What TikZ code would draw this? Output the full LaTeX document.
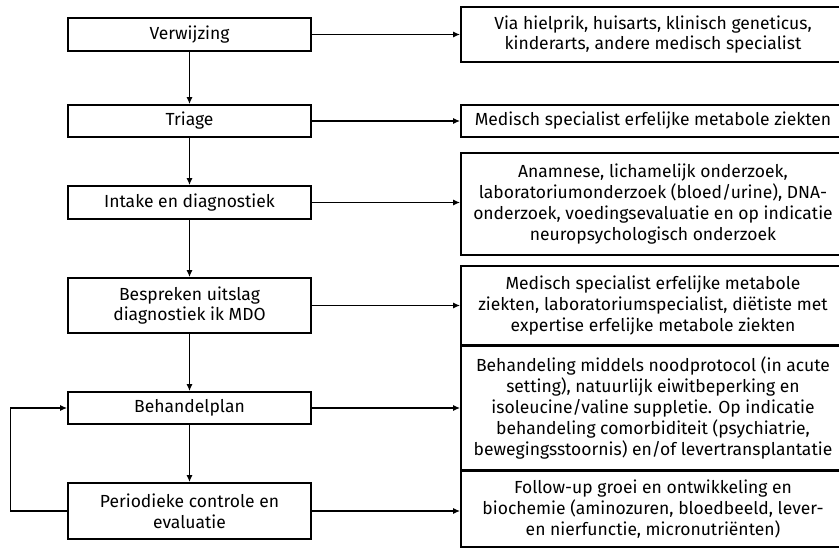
\documentclass[tikz,border=0pt]{standalone}
\usepackage{fontspec}
\setmainfont{Fira Sans}
\usetikzlibrary{arrows.meta}
\begin{document}
\begin{tikzpicture}[x=1pt,y=-1pt,
  every node/.style={font=\fontsize{17.5}{20.8}\selectfont},
  lbox/.style={draw,line width=1.7pt,minimum width=243pt,align=center,inner sep=0pt},
  rbox/.style={draw,line width=1.7pt,minimum width=384pt,align=center,inner sep=0pt},
  conn/.style={line width=1.6pt,-{Latex[length=7pt,width=6pt]}}]
\useasboundingbox (0,0) rectangle (839,549);
\clip (0,0) rectangle (839,549);
% left column
\node[lbox,minimum height=33pt] (v) at (189.5,34.5) {Verwijzing};
\node[lbox,minimum height=32pt] (t) at (189.5,121) {Triage};
\node[lbox,minimum height=33pt] (i) at (189.5,202.5) {Intake en diagnostiek};
\node[lbox,minimum height=55pt] (b) at (189.5,305.5) {Bespreken uitslag\\diagnostiek ik MDO};
\node[lbox,minimum height=32pt] (p) at (189.5,408) {Behandelplan};
\node[lbox,minimum height=56pt] (c) at (189.5,511) {Periodieke controle en\\evaluatie};
% right column
\node[rbox,minimum height=55pt] (r1) at (653,34.5) {Via hielprik, huisarts, klinisch geneticus,\\kinderarts, andere medisch specialist};
\node[rbox,minimum height=32pt] (r2) at (653,121) {Medisch specialist erfelijke metabole ziekten};
\node[rbox,minimum height=102pt] (r3) at (653,204) {Anamnese, lichamelijk onderzoek,\\laboratoriumonderzoek (bloed/urine), DNA-\\onderzoek, voedingsevaluatie en op indicatie\\neuropsychologisch onderzoek};
\node[rbox,minimum height=79pt] (r4) at (653,305.5) {Medisch specialist erfelijke metabole\\ziekten, laboratoriumspecialist, diëtiste met\\expertise erfelijke metabole ziekten};
\node[rbox,minimum height=124pt] (r5) at (653,408) {Behandeling middels noodprotocol (in acute\\setting), natuurlijk eiwitbeperking en\\isoleucine/valine suppletie. Op indicatie\\behandeling comorbiditeit (psychiatrie,\\bewegingsstoornis) en/of levertransplantatie};
\node[rbox,minimum height=76pt] (r6) at (653,509) {Follow-up groei en ontwikkeling en\\biochemie (aminozuren, bloedbeeld, lever-\\en nierfunctie, micronutriënten)};
% vertical arrows
\draw[conn] (v) -- (t);
\draw[conn] (t) -- (i);
\draw[conn] (i) -- (b);
\draw[conn] (b) -- (p);
\draw[conn] (p) -- (c);
% horizontal arrows
\draw[conn] (v.east) -- (r1.west |- v.east);
\draw[conn] (t.east) -- (r2.west |- t.east);
\draw[conn] (i.east) -- (r3.west |- i.east);
\draw[conn] (b.east) -- (r4.west |- b.east);
\draw[conn] (p.east) -- (r5.west |- p.east);
\draw[conn] (c.east) -- (r6.west |- c.east);
% feedback loop
\coordinate (lx) at (10.5,0);
\draw[conn] (c.west) -- (lx |- c.west) -- (lx |- p.west) -- (p.west);
\end{tikzpicture}
\end{document}
